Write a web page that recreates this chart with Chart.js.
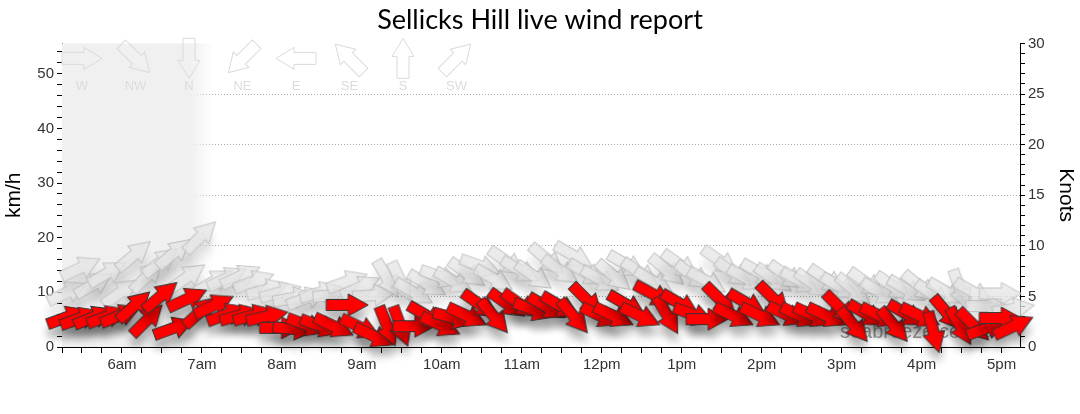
<!DOCTYPE html>
<html>
<head>
<meta charset="utf-8">
<script src="https://cdn.jsdelivr.net/npm/chart.js@4.4.1/dist/chart.umd.min.js"></script>
<style>
  html, body { margin: 0; padding: 0; background: #fff; }
  #wrap { width: 1080px; height: 414px; }
</style>
</head>
<body>
<div id="wrap"><canvas id="windChart"></canvas></div>
<script>
// readings every 10 minutes
var times = ['5:19','5:29','5:39','5:49','5:59','6:09','6:19','6:29','6:39','6:49','6:59','7:09',
  '7:19','7:29','7:39','7:49','7:59','8:09','8:19','8:29','8:39','8:49','8:59','9:09',
  '9:19','9:29','9:39','9:49','9:59','10:09','10:19','10:29','10:39','10:49','10:59','11:09',
  '11:19','11:29','11:39','11:49','11:59','12:09','12:19','12:29','12:39','12:49','12:59','13:09',
  '13:19','13:29','13:39','13:49','13:59','14:09','14:19','14:29','14:39','14:49','14:59','15:09',
  '15:19','15:29','15:39','15:49','15:59','16:09','16:19','16:29','16:39','16:49','16:59','17:09'];

// average wind, km/h and direction it comes from (degrees)
var avgSpeed = [5.5,5.3,5.5,5.6,5.8,7.5,5.0,9.3,3.5,8.8,6.5,7.6,
  6.0,5.8,5.8,5.6,3.5,3.3,4.0,3.8,3.8,7.7,3.6,2.0,
  3.8,3.8,3.8,5.7,4.0,5.3,5.7,7.7,5.6,7.9,7.8,6.8,
  7.3,7.5,5.6,8.6,5.7,5.7,7.7,5.7,9.6,5.8,7.9,5.9,
  5.1,8.6,5.7,8.0,5.7,8.8,5.9,5.7,5.7,5.7,7.1,4.0,
  6.0,5.7,4.0,6.0,5.7,2.7,6.2,3.8,4.0,3.5,5.3,3.8];
var avgDir = [250,250,248,250,248,228,225,230,250,245,228,245,
  250,255,255,258,270,275,290,290,295,270,295,295,
  338,340,270,300,295,285,295,305,320,305,305,290,
  300,300,320,315,295,295,300,295,298,330,300,290,
  270,315,295,300,295,315,295,295,295,295,315,320,
  300,295,320,300,295,345,320,330,315,250,270,245];

// gusts, km/h and direction
var gustSpeed = [10,14.5,11.5,13.5,10,16.8,13,15.6,17.2,12.8,20.2,12,
  12.6,13,12,10.5,10,9,9,10,9.5,12,11,9.5,
  12.5,12,10,11.5,12.8,12,13.5,14.8,12.5,15.6,14,13,
  16,14,16.7,13.5,12.3,13,15,13.5,12,14,15,13,
  12,15.7,13.5,12.5,13.5,12.5,13,12,11.5,12.3,11,10.5,
  11.7,10,11,10.5,11,9.5,10,10.5,10,7.5,9.8,7];
var gustDir = [245,245,240,240,235,230,225,232,230,235,225,240,
  245,245,250,255,255,260,250,255,265,250,245,265,
  330,335,300,300,290,300,305,290,300,305,300,305,
  310,305,300,300,300,310,300,305,300,310,305,305,
  300,305,305,300,300,305,305,300,305,305,300,310,
  305,300,305,300,310,305,300,340,300,270,270,260];

var hourTicks = [6,7,8,9,10,11,12,13,14,15,16,17];
var hourLabels = ['6am','7am','8am','9am','10am','11am','12pm','1pm','2pm','3pm','4pm','5pm'];
var kmhLabels = [0,10,20,30,40,50];
var knotLabels = [0,5,10,15,20,25,30];
var compassNames = ['W','NW','N','NE','E','SE','S','SW'];
var compassDirs = [270,315,0,45,90,135,180,225];
var darkUntil = '7:00';

function toHours(t) {
  var p = t.split(':');
  return parseInt(p[0], 10) + parseInt(p[1], 10) / 60;
}

function arrowPath(ctx, L, s, hw, hl) {
  ctx.beginPath();
  ctx.moveTo(-L/2, -s/2);
  ctx.lineTo(L/2 - hl, -s/2);
  ctx.lineTo(L/2 - hl, -hw/2);
  ctx.lineTo(L/2, 0);
  ctx.lineTo(L/2 - hl, hw/2);
  ctx.lineTo(L/2 - hl, s/2);
  ctx.lineTo(-L/2, s/2);
  ctx.closePath();
}

var cache = {};
function arrowImg(kind, dir) {
  var key = kind + dir;
  if (cache[key]) return cache[key];
  var c = document.createElement('canvas');
  c.width = 100; c.height = 100;
  var g = c.getContext('2d');
  g.translate(50, 50);
  g.rotate((dir + 90) * Math.PI / 180);
  if (kind == 'avg') {
    g.shadowColor = 'rgba(0,0,0,0.3)';
    g.shadowBlur = 8;
    g.shadowOffsetY = 10;
    g.fillStyle = '#ff0000';
    g.strokeStyle = '#333';
  } else {
    g.shadowColor = 'rgba(0,0,0,0.15)';
    g.shadowBlur = 10;
    g.shadowOffsetY = 12;
    g.fillStyle = 'rgba(228,228,228,0.75)';
    g.strokeStyle = 'rgba(190,190,190,0.9)';
  }
  g.lineWidth = 1;
  arrowPath(g, 42, 11, 22, 20);
  g.fill();
  g.shadowColor = 'transparent';
  g.stroke();
  cache[key] = c;
  return c;
}

var nightPlugin = {
  id: 'night',
  beforeDatasetsDraw: function(chart) {
    var ctx = chart.ctx, a = chart.chartArea, xs = chart.scales.x;
    var end = toHours(darkUntil);
    var x1 = xs.getPixelForValue(end - 0.15), x2 = xs.getPixelForValue(end + 0.15);
    ctx.save();
    var gr = ctx.createLinearGradient(x1, 0, x2, 0);
    gr.addColorStop(0, 'rgba(240,240,240,1)');
    gr.addColorStop(1, 'rgba(240,240,240,0)');
    ctx.fillStyle = '#f0f0f0';
    ctx.fillRect(a.left, a.top, x1 - a.left, a.bottom - a.top);
    ctx.fillStyle = gr;
    ctx.fillRect(x1, a.top, x2 - x1, a.bottom - a.top);
    // watermark
    ctx.font = '20px "Liberation Sans"';
    ctx.fillStyle = '#9a9a9a';
    ctx.textBaseline = 'alphabetic';
    ctx.fillText('seabreeze.com.au', 840, 338);
    ctx.restore();
  },
  afterDatasetsDraw: function(chart) {
    var ctx = chart.ctx, a = chart.chartArea;
    ctx.save();
    for (var i = 0; i < compassNames.length; i++) {
      var cx = a.left + 20 + i * 53.5, cy = a.top + 15;
      ctx.save();
      ctx.translate(cx, cy);
      ctx.rotate((compassDirs[i] + 90) * Math.PI / 180);
      arrowPath(ctx, 40, 12, 22, 18);
      ctx.strokeStyle = '#dadada';
      ctx.lineWidth = 1;
      ctx.stroke();
      ctx.restore();
      ctx.font = '13px "Liberation Sans"';
      ctx.fillStyle = '#dcdcdc';
      ctx.textAlign = 'center';
      ctx.textBaseline = 'middle';
      ctx.fillText(compassNames[i], cx, a.top + 43);
    }
    ctx.restore();
  }
};

var tickFont = { family: 'Liberation Sans', size: 15 };
var axisTitleFont = { family: 'Liberation Sans', size: 21 };

new Chart(document.getElementById('windChart'), {
  type: 'scatter',
  data: {
    datasets: [{
      label: 'Average',
      data: times.map(function(t, i) { return { x: toHours(t), y: avgSpeed[i] }; }),
      pointStyle: function(c) { return arrowImg('avg', avgDir[c.dataIndex]); },
      pointRadius: 20,
      clip: false,
      yAxisID: 'y'
    }, {
      label: 'Gust',
      data: times.map(function(t, i) { return { x: toHours(t), y: gustSpeed[i] }; }),
      pointStyle: function(c) { return arrowImg('gust', gustDir[c.dataIndex]); },
      pointRadius: 20,
      clip: false,
      yAxisID: 'y'
    }]
  },
  options: {
    responsive: true,
    maintainAspectRatio: false,
    animation: false,
    events: [],
    layout: { padding: { top: 0 } },
    plugins: {
      legend: { display: false },
      tooltip: { enabled: false },
      title: {
        display: true,
        text: 'Sellicks Hill live wind report',
        color: '#000',
        font: { family: 'Lato', size: 27, weight: 'normal' },
        padding: { top: 4, bottom: 7 }
      }
    },
    scales: {
      x: {
        type: 'linear',
        min: 5.25,
        max: 17.23,
        afterBuildTicks: function(s) {
          var t = [];
          for (var v = 5.25; v <= 17.2; v += 0.25) t.push({ value: v });
          s.ticks = t;
        },
        afterFit: function(s) { s.height = 67; },
        ticks: {
          autoSkip: false, maxRotation: 0, padding: 3, color: '#333', font: tickFont,
          callback: function(v) {
            var i = hourTicks.indexOf(Math.round(v * 100) / 100);
            return i >= 0 ? hourLabels[i] : '';
          }
        },
        grid: { drawOnChartArea: false, tickLength: 6, tickColor: '#000' },
        border: { color: '#000', width: 1 }
      },
      y: {
        position: 'left',
        min: 0,
        max: 30 * 1.852,
        afterBuildTicks: function(s) {
          var t = [];
          for (var v = 0; v <= 54; v += 2) t.push({ value: v });
          s.ticks = t;
        },
        afterFit: function(s) { s.width = 62; },
        ticks: {
          autoSkip: false, padding: 3, color: '#333', font: tickFont,
          callback: function(v) { return kmhLabels.indexOf(v) >= 0 ? String(v) : ''; }
        },
        title: { display: true, text: 'km/h', color: '#000', font: axisTitleFont, padding: 2 },
        grid: { drawOnChartArea: false, tickLength: 5, tickColor: '#000' },
        border: { color: '#000', width: 1 }
      },
      knots: {
        position: 'right',
        min: 0,
        max: 30,
        afterBuildTicks: function(s) {
          var t = [];
          for (var v = 0; v <= 30; v += 1) t.push({ value: v });
          s.ticks = t;
        },
        afterFit: function(s) { s.width = 60; },
        ticks: {
          autoSkip: false, padding: 3, color: '#333', font: tickFont,
          callback: function(v) { return knotLabels.indexOf(v) >= 0 ? String(v) : ''; }
        },
        title: { display: true, text: 'Knots', color: '#000', font: axisTitleFont, padding: 2 },
        grid: {
          tickLength: 5,
          tickColor: '#000',
          color: function(c) {
            var v = c.tick ? c.tick.value : 0;
            return (v % 5 === 0 && v > 0 && v < 30) ? '#aaa' : 'rgba(0,0,0,0)';
          }
        },
        border: { color: '#000', width: 1, dash: [1, 2] }
      }
    }
  },
  plugins: [nightPlugin]
});
</script>
</body>
</html>
